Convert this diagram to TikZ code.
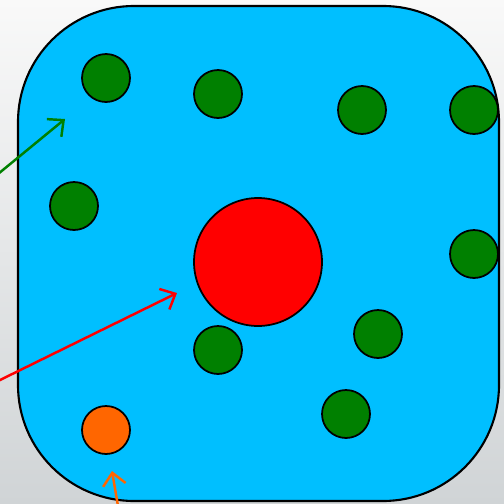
\documentclass[tikz,border=0pt]{standalone}
\usetikzlibrary{arrows.meta}
\definecolor{pool}{RGB}{0,191,255}
\definecolor{cellgreen}{RGB}{0,128,0}
\definecolor{cellred}{RGB}{255,0,0}
\definecolor{cellorange}{RGB}{255,102,0}
\definecolor{bgtop}{RGB}{249,249,249}
\definecolor{bgbottom}{RGB}{208,212,214}
\begin{document}
\begin{tikzpicture}[x=0.02cm, y=-0.02cm,
  cell/.style={circle,draw=black,line width=1pt,inner sep=0pt,minimum size=0.96cm},
  small/.style={cell,fill=cellgreen},
  big/.style={cell,fill=cellred,minimum size=2.56cm},
  odd/.style={cell,fill=cellorange},
  ptr/.style={-{Straight Barb[length=7pt,width=13pt]},line width=1.4pt}]
  % background
  \shade[top color=bgtop,bottom color=bgbottom] (0,0) rectangle (504,504);
  \useasboundingbox (0,0) rectangle (504,504);
  \filldraw[fill=pool,draw=black,line width=1.2pt,rounded corners=66] (18,6) rectangle (499,501);
  % cells
  \node[small] (g1) at (106,78) {};
  \node[small] (g2) at (218,94) {};
  \node[small] (g3) at (362,110) {};
  \node[small] (g4) at (474,110) {};
  \node[small] (g5) at (74,206) {};
  \node[small] (g6) at (474,254) {};
  \node[small] (g7) at (218,350) {};
  \node[small] (g8) at (378,334) {};
  \node[small] (g9) at (346,414) {};
  \node[big] (nucleus) at (258,262) {};
  \node[odd] (stray) at (106,430) {};
  % pointers
  \coordinate (gs) at (-2,174);
  \coordinate (ge) at (65,119);
  \coordinate (rs) at (-2,381);
  \coordinate (re) at (177,293);
  \coordinate (os) at (118,506);
  \coordinate (oe) at (112,471);
  \draw[ptr,cellgreen] (gs) -- (ge);
  \draw[ptr,cellred] (rs) -- (re);
  \draw[ptr,cellorange] (os) -- (oe);
\end{tikzpicture}
\end{document}
